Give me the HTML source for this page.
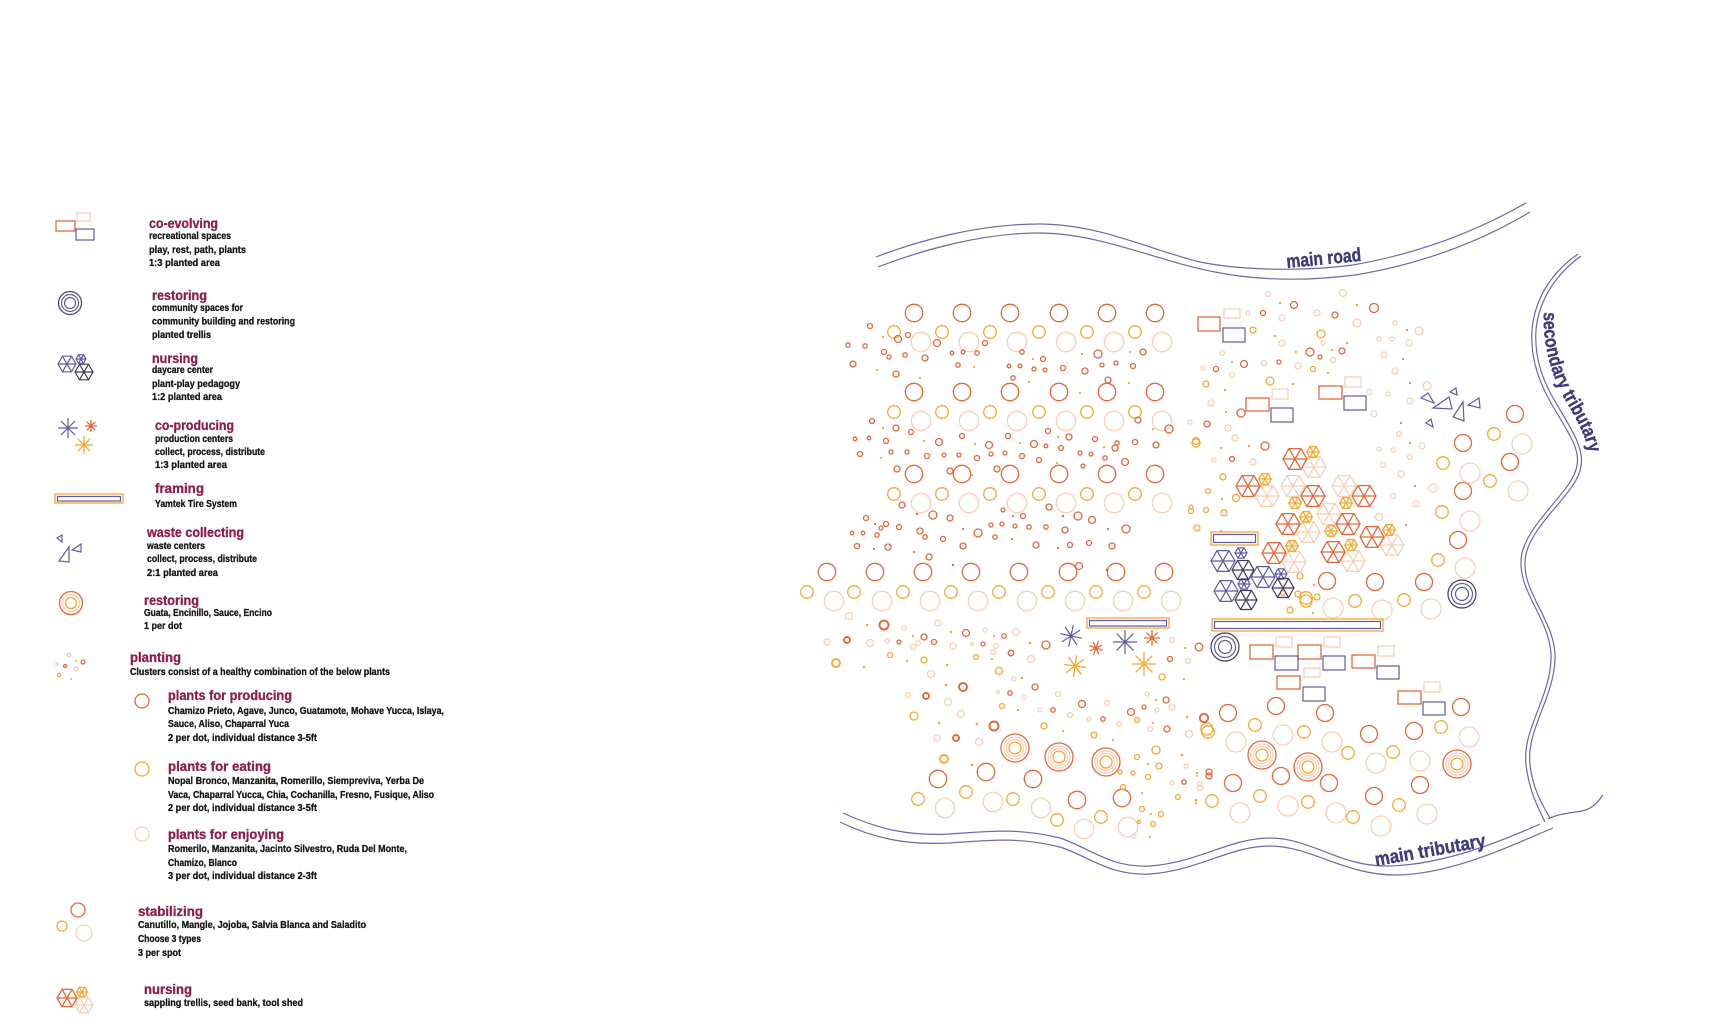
<!DOCTYPE html>
<html><head><meta charset="utf-8"><style>
html,body{margin:0;padding:0;background:#fff;}
svg{display:block;}
.t{font:bold 14px "Liberation Sans Narrow","Liberation Sans",sans-serif;fill:#8b1d4c;stroke:#8b1d4c;stroke-width:0.3;}
.b{font:bold 10.3px "Liberation Sans Narrow","Liberation Sans",sans-serif;fill:#151515;stroke:#151515;stroke-width:0.3;}
.m{font:bold 19px "Liberation Sans Narrow","Liberation Sans",sans-serif;fill:#3e3c7c;stroke:#3e3c7c;stroke-width:0.4;}
.R,.R *{fill:none;stroke:#e2673b;stroke-width:1.3;}
.Y,.Y *{fill:none;stroke:#f5a833;stroke-width:1.3;}
.P,.P *{fill:none;stroke:#f8cfb6;stroke-width:1.3;}
.N,.N *{fill:none;stroke:#5d5ca2;stroke-width:1.2;}
.D,.D *{fill:none;stroke:#433a5e;stroke-width:1.2;}
.h{vector-effect:non-scaling-stroke;}
.h *{vector-effect:non-scaling-stroke;}
.dy *{fill:#f5a833;stroke:none;}
.dr *{fill:#e2673b;stroke:none;}
.ln{fill:none;stroke:#6a69ab;stroke-width:1.2;}
.th *{stroke-width:1.9;}
</style></head><body>
<svg width="1727" height="1028" viewBox="0 0 1727 1028" xmlns="http://www.w3.org/2000/svg">
<rect width="1727" height="1028" fill="#fff"/>

<!-- ================= LEGEND ================= -->
<rect x="56" y="221" width="19" height="10" class="R"/>
<rect x="77" y="213" width="13" height="8" class="P"/>
<rect x="76" y="229" width="18" height="11" class="N"/>
<text class="t" x="149" y="228" textLength="69" lengthAdjust="spacingAndGlyphs">co-evolving</text>
<text class="b" x="149" y="239" textLength="82" lengthAdjust="spacingAndGlyphs">recreational spaces</text>
<text class="b" x="149" y="253" textLength="97" lengthAdjust="spacingAndGlyphs">play, rest, path, plants</text>
<text class="b" x="149" y="266" textLength="71" lengthAdjust="spacingAndGlyphs">1:3 planted area</text>

<circle cx="70" cy="303" r="11.5" class="D"/>
<circle cx="70" cy="303" r="8.5" class="N"/>
<circle cx="70" cy="303" r="5.5" class="N"/>
<text class="t" x="152" y="300" textLength="55" lengthAdjust="spacingAndGlyphs">restoring</text>
<text class="b" x="152" y="311" textLength="91" lengthAdjust="spacingAndGlyphs">community spaces for</text>
<text class="b" x="152" y="324.5" textLength="143" lengthAdjust="spacingAndGlyphs">community building and restoring</text>
<text class="b" x="152" y="338" textLength="59" lengthAdjust="spacingAndGlyphs">planted trellis</text>

<g class="N h"><path transform="translate(67,364) scale(9)" d="M1 0L.5 .866L-.5 .866L-1 0L-.5-.866L.5-.866ZM1 0L-1 0M.5 .866L-.5-.866M-.5 .866L.5-.866"/>
<path transform="translate(81,359) scale(5)" d="M1 0L.5 .866L-.5 .866L-1 0L-.5-.866L.5-.866ZM1 0L-1 0M.5 .866L-.5-.866M-.5 .866L.5-.866"/></g>
<g class="D h"><path transform="translate(84,372) scale(9)" d="M1 0L.5 .866L-.5 .866L-1 0L-.5-.866L.5-.866ZM1 0L-1 0M.5 .866L-.5-.866M-.5 .866L.5-.866"/></g>
<text class="t" x="152" y="363" textLength="46" lengthAdjust="spacingAndGlyphs">nursing</text>
<text class="b" x="152" y="373" textLength="61" lengthAdjust="spacingAndGlyphs">daycare center</text>
<text class="b" x="152" y="387" textLength="88" lengthAdjust="spacingAndGlyphs">plant-play pedagogy</text>
<text class="b" x="152" y="400" textLength="70" lengthAdjust="spacingAndGlyphs">1:2 planted area</text>

<g class="N h"><path transform="translate(68,428) scale(10)" d="M-1 0H1M0-1V1M-.7-.7L.7 .7M-.7 .7L.7-.7"/></g>
<g class="R h"><path transform="translate(91,426) scale(6)" d="M-1 0H1M0-1V1M-.7-.7L.7 .7M-.7 .7L.7-.7"/></g>
<g class="Y h"><path transform="translate(84,445) scale(9)" d="M-1 0H1M0-1V1M-.7-.7L.7 .7M-.7 .7L.7-.7"/></g>
<text class="t" x="155" y="430" textLength="79" lengthAdjust="spacingAndGlyphs">co-producing</text>
<text class="b" x="155" y="442" textLength="78" lengthAdjust="spacingAndGlyphs">production centers</text>
<text class="b" x="155" y="455" textLength="110" lengthAdjust="spacingAndGlyphs">collect, process, distribute</text>
<text class="b" x="155" y="468" textLength="72" lengthAdjust="spacingAndGlyphs">1:3 planted area</text>

<rect x="55" y="494" width="68" height="9" class="Y" fill="#fff"/>
<rect x="57.5" y="496.5" width="63" height="4.5" class="N"/>
<text class="t" x="155" y="493" textLength="49" lengthAdjust="spacingAndGlyphs">framing</text>
<text class="b" x="155" y="507" textLength="82" lengthAdjust="spacingAndGlyphs">Yamtek Tire System</text>

<g class="N"><polygon points="57,538 62,535 62,542"/><polygon points="59,561 69,547 69,562"/><polygon points="72,550 81,544 81,552"/></g>
<text class="t" x="147" y="537" textLength="97" lengthAdjust="spacingAndGlyphs">waste collecting</text>
<text class="b" x="147" y="549" textLength="58" lengthAdjust="spacingAndGlyphs">waste centers</text>
<text class="b" x="147" y="562" textLength="110" lengthAdjust="spacingAndGlyphs">collect, process, distribute</text>
<text class="b" x="147" y="576" textLength="71" lengthAdjust="spacingAndGlyphs">2:1 planted area</text>

<circle cx="71" cy="603" r="11.5" class="R"/>
<circle cx="71" cy="603" r="8.5" class="P"/>
<circle cx="71" cy="603" r="5.5" class="Y"/>
<text class="t" x="144" y="605" textLength="55" lengthAdjust="spacingAndGlyphs">restoring</text>
<text class="b" x="144" y="616" textLength="128" lengthAdjust="spacingAndGlyphs">Guata, Encinillo, Sauce, Encino</text>
<text class="b" x="144" y="629" textLength="38" lengthAdjust="spacingAndGlyphs">1 per dot</text>

<g class="P"><circle cx="69" cy="655" r="1.7"/><circle cx="76" cy="669" r="1.8"/><circle cx="57" cy="664" r="1.2"/></g>
<g class="R"><circle cx="83" cy="662" r="2"/><circle cx="65" cy="666" r="1.5"/></g>
<g class="Y"><circle cx="59" cy="675" r="1.6"/></g>
<g class="dy"><circle cx="76" cy="661" r="1"/><circle cx="71" cy="679" r="1"/></g>
<text class="t" x="130" y="662" textLength="51" lengthAdjust="spacingAndGlyphs">planting</text>
<text class="b" x="130" y="675" textLength="260" lengthAdjust="spacingAndGlyphs">Clusters consist of a healthy combination of the below plants</text>

<circle cx="142" cy="701" r="7" class="R"/>
<text class="t" x="168" y="700" textLength="124" lengthAdjust="spacingAndGlyphs">plants for producing</text>
<text class="b" x="168" y="714" textLength="276" lengthAdjust="spacingAndGlyphs">Chamizo Prieto, Agave, Junco, Guatamote, Mohave Yucca, Islaya,</text>
<text class="b" x="168" y="727" textLength="121" lengthAdjust="spacingAndGlyphs">Sauce, Aliso, Chaparral Yuca</text>
<text class="b" x="168" y="741" textLength="149" lengthAdjust="spacingAndGlyphs">2 per dot, individual distance 3-5ft</text>

<circle cx="142" cy="769" r="7" class="Y"/>
<text class="t" x="168" y="771" textLength="103" lengthAdjust="spacingAndGlyphs">plants for eating</text>
<text class="b" x="168" y="784" textLength="256" lengthAdjust="spacingAndGlyphs">Nopal Bronco, Manzanita, Romerillo, Siempreviva, Yerba De</text>
<text class="b" x="168" y="798" textLength="266" lengthAdjust="spacingAndGlyphs">Vaca, Chaparral Yucca, Chia, Cochanilla, Fresno, Fusique, Aliso</text>
<text class="b" x="168" y="811" textLength="149" lengthAdjust="spacingAndGlyphs">2 per dot, individual distance 3-5ft</text>

<circle cx="142" cy="834" r="7" class="P"/>
<text class="t" x="168" y="839" textLength="116" lengthAdjust="spacingAndGlyphs">plants for enjoying</text>
<text class="b" x="168" y="852" textLength="239" lengthAdjust="spacingAndGlyphs">Romerilo, Manzanita, Jacinto Silvestro, Ruda Del Monte,</text>
<text class="b" x="168" y="866" textLength="69" lengthAdjust="spacingAndGlyphs">Chamizo, Blanco</text>
<text class="b" x="168" y="879" textLength="149" lengthAdjust="spacingAndGlyphs">3 per dot, individual distance 2-3ft</text>

<circle cx="78" cy="910" r="7" class="R"/>
<circle cx="62" cy="926" r="5" class="Y"/>
<circle cx="84" cy="933" r="8" class="P"/>
<text class="t" x="138" y="916" textLength="65" lengthAdjust="spacingAndGlyphs">stabilizing</text>
<text class="b" x="138" y="928" textLength="228" lengthAdjust="spacingAndGlyphs">Canutillo, Mangle, Jojoba, Salvia Blanca and Saladito</text>
<text class="b" x="138" y="942" textLength="63" lengthAdjust="spacingAndGlyphs">Choose 3 types</text>
<text class="b" x="138" y="956" textLength="43" lengthAdjust="spacingAndGlyphs">3 per spot</text>

<g class="R h"><path transform="translate(67,998) scale(10)" d="M1 0L.5 .866L-.5 .866L-1 0L-.5-.866L.5-.866ZM1 0L-1 0M.5 .866L-.5-.866M-.5 .866L.5-.866"/></g>
<g class="P h"><path transform="translate(84,1005) scale(9)" d="M1 0L.5 .866L-.5 .866L-1 0L-.5-.866L.5-.866ZM1 0L-1 0M.5 .866L-.5-.866M-.5 .866L.5-.866"/></g>
<g class="Y h"><path transform="translate(82,992) scale(5.5)" d="M1 0L.5 .866L-.5 .866L-1 0L-.5-.866L.5-.866ZM1 0L-1 0M.5 .866L-.5-.866M-.5 .866L.5-.866"/></g>
<text class="t" x="144" y="994" textLength="48" lengthAdjust="spacingAndGlyphs">nursing</text>
<text class="b" x="144" y="1006" textLength="159" lengthAdjust="spacingAndGlyphs">sappling trellis, seed bank, tool shed</text>

<!-- ================= MAP: roads / rivers ================= -->
<path class="ln" d="M876,257 C920,240 980,224 1039,224 C1100,224 1150,250 1200,262 C1240,270 1300,272 1353,265 C1410,255 1470,235 1526,203"/>
<path class="ln" d="M878,267 C922,250 982,233 1039,233 C1100,233 1160,262 1215,272 C1255,280 1300,282 1355,275 C1415,265 1475,245 1530,212"/>
<text class="m" transform="translate(1287,268) rotate(-5.5)" textLength="75" lengthAdjust="spacingAndGlyphs">main road</text>

<path class="ln" d="M1578,254 C1555,270 1535,295 1532,330 C1530,360 1540,385 1555,410 C1570,435 1580,450 1577,465 C1574,490 1530,520 1522,553 C1514,590 1553,620 1551,660 C1549,700 1522,730 1526,765 C1529,790 1538,808 1545,822"/>
<path class="ln" d="M1581,256 C1559,272 1539,297 1536,330 C1534,360 1544,384 1559,408 C1574,433 1584,450 1581,466 C1578,492 1534,521 1526,554 C1518,591 1557,620 1555,660 C1553,700 1526,730 1530,765 C1533,790 1543,806 1550,818"/>
<path id="stp" fill="none" stroke="none" d="M1544,312 C1542,345 1552,378 1567,403 C1581,427 1593,450 1590,474"/>
<text class="m"><textPath href="#stp" textLength="150" lengthAdjust="spacingAndGlyphs">secondary tributary</textPath></text>

<path class="ln" d="M843,813 C880,830 910,836 950,834 C990,831 1020,828 1060,838 C1090,848 1110,868 1150,866 C1200,862 1230,838 1270,838 C1310,838 1340,866 1385,866 C1440,866 1500,842 1540,824"/>
<path class="ln" d="M840,822 C877,840 910,845 950,843 C990,840 1020,837 1060,847 C1090,857 1110,876 1150,874 C1200,870 1230,846 1270,846 C1310,846 1345,875 1395,875 C1450,875 1510,846 1553,828"/>
<path class="ln" d="M1548,819 C1560,813 1572,813 1582,811 C1592,809 1598,802 1603,795"/>
<text class="m" transform="translate(1376,866) rotate(-10)" textLength="112" lengthAdjust="spacingAndGlyphs">main tributary</text>

<!-- ================= MAP: grid circles ================= -->
<g class="R" style="stroke-width:1.5">
<circle cx="914" cy="313" r="8.7"/><circle cx="962" cy="313" r="8.7"/><circle cx="1010" cy="313" r="8.7"/><circle cx="1059" cy="313" r="8.7"/><circle cx="1107" cy="313" r="8.7"/><circle cx="1155" cy="313" r="8.7"/>
<circle cx="914" cy="392" r="8.7"/><circle cx="962" cy="392" r="8.7"/><circle cx="1010" cy="392" r="8.7"/><circle cx="1059" cy="392" r="8.7"/><circle cx="1107" cy="392" r="8.7"/><circle cx="1155" cy="392" r="8.7"/>
<circle cx="914" cy="474" r="8.7"/><circle cx="962" cy="474" r="8.7"/><circle cx="1010" cy="474" r="8.7"/><circle cx="1059" cy="474" r="8.7"/><circle cx="1107" cy="474" r="8.7"/><circle cx="1155" cy="474" r="8.7"/>
<circle cx="827" cy="572" r="8.7"/><circle cx="875" cy="572" r="8.7"/><circle cx="923" cy="572" r="8.7"/><circle cx="971" cy="572" r="8.7"/><circle cx="1019" cy="572" r="8.7"/><circle cx="1068" cy="572" r="8.7"/><circle cx="1116" cy="572" r="8.7"/><circle cx="1164" cy="572" r="8.7"/>
<circle cx="1515" cy="414" r="8.5"/><circle cx="1463" cy="443" r="8.5"/><circle cx="1510" cy="462" r="8.5"/><circle cx="1463" cy="491" r="8.5"/><circle cx="1458" cy="540" r="8.5"/>
<circle cx="1327" cy="581" r="8.5"/><circle cx="1375" cy="582" r="8.5"/><circle cx="1424" cy="582" r="8.5"/>
<circle cx="938" cy="779" r="8.7"/><circle cx="986" cy="772" r="8.7"/><circle cx="1033" cy="779" r="8.7"/><circle cx="1077" cy="800" r="8.7"/><circle cx="1122" cy="798" r="8.7"/>
<circle cx="1228" cy="713" r="8.5"/><circle cx="1276" cy="706" r="8.5"/><circle cx="1325" cy="713" r="8.5"/><circle cx="1369" cy="734" r="8.5"/><circle cx="1414" cy="731" r="8.5"/><circle cx="1461" cy="707" r="8.5"/>
<circle cx="1233" cy="783" r="8.5"/><circle cx="1281" cy="776" r="8.5"/><circle cx="1329" cy="783" r="8.5"/><circle cx="1374" cy="796" r="8.5"/><circle cx="1420" cy="785" r="8.5"/>
</g>
<g class="Y">
<circle cx="894" cy="332" r="6.3"/><circle cx="942" cy="332" r="6.3"/><circle cx="990" cy="332" r="6.3"/><circle cx="1039" cy="332" r="6.3"/><circle cx="1087" cy="332" r="6.3"/><circle cx="1135" cy="332" r="6.3"/>
<circle cx="894" cy="412" r="6.3"/><circle cx="942" cy="412" r="6.3"/><circle cx="990" cy="412" r="6.3"/><circle cx="1039" cy="412" r="6.3"/><circle cx="1087" cy="412" r="6.3"/><circle cx="1135" cy="412" r="6.3"/>
<circle cx="894" cy="494" r="6.3"/><circle cx="942" cy="494" r="6.3"/><circle cx="990" cy="494" r="6.3"/><circle cx="1039" cy="494" r="6.3"/><circle cx="1087" cy="494" r="6.3"/><circle cx="1135" cy="494" r="6.3"/>
<circle cx="807" cy="592" r="6.3"/><circle cx="854" cy="592" r="6.3"/><circle cx="903" cy="592" r="6.3"/><circle cx="951" cy="592" r="6.3"/><circle cx="999" cy="592" r="6.3"/><circle cx="1048" cy="592" r="6.3"/><circle cx="1096" cy="592" r="6.3"/><circle cx="1144" cy="592" r="6.3"/>
<circle cx="1494" cy="434" r="6.3"/><circle cx="1443" cy="463" r="6.3"/><circle cx="1490" cy="481" r="6.3"/><circle cx="1442" cy="512" r="6.3"/><circle cx="1438" cy="560" r="6.3"/>
<circle cx="1306" cy="598" r="6.3"/><circle cx="1355" cy="601" r="6.3"/><circle cx="1404" cy="600" r="6.3"/>
<circle cx="918" cy="799" r="6.3"/><circle cx="966" cy="792" r="6.3"/><circle cx="1013" cy="799" r="6.3"/><circle cx="1057" cy="820" r="6.3"/><circle cx="1101" cy="817" r="6.3"/><circle cx="1212" cy="801" r="6.3"/>
<circle cx="1255" cy="725" r="6.3"/><circle cx="1304" cy="732" r="6.3"/><circle cx="1208" cy="732" r="6.3"/><circle cx="1348" cy="753" r="6.3"/><circle cx="1393" cy="752" r="6.3"/><circle cx="1441" cy="727" r="6.3"/>
<circle cx="1260" cy="796" r="6.3"/><circle cx="1308" cy="802" r="6.3"/><circle cx="1353" cy="817" r="6.3"/><circle cx="1399" cy="805" r="6.3"/><circle cx="1207" cy="729" r="6"/>
</g>
<g class="P">
<circle cx="921" cy="342" r="9.7"/><circle cx="969" cy="342" r="9.7"/><circle cx="1017" cy="342" r="9.7"/><circle cx="1066" cy="342" r="9.7"/><circle cx="1114" cy="342" r="9.7"/><circle cx="1162" cy="342" r="9.7"/>
<circle cx="921" cy="421" r="9.7"/><circle cx="969" cy="421" r="9.7"/><circle cx="1017" cy="421" r="9.7"/><circle cx="1066" cy="421" r="9.7"/><circle cx="1114" cy="421" r="9.7"/><circle cx="1162" cy="421" r="9.7"/>
<circle cx="921" cy="503" r="9.7"/><circle cx="969" cy="503" r="9.7"/><circle cx="1017" cy="503" r="9.7"/><circle cx="1066" cy="503" r="9.7"/><circle cx="1114" cy="503" r="9.7"/><circle cx="1162" cy="503" r="9.7"/>
<circle cx="834" cy="601" r="9.7"/><circle cx="882" cy="601" r="9.7"/><circle cx="930" cy="601" r="9.7"/><circle cx="978" cy="601" r="9.7"/><circle cx="1027" cy="601" r="9.7"/><circle cx="1075" cy="601" r="9.7"/><circle cx="1123" cy="601" r="9.7"/><circle cx="1171" cy="601" r="9.7"/>
<circle cx="1522" cy="444" r="10"/><circle cx="1470" cy="473" r="10"/><circle cx="1518" cy="491" r="10"/><circle cx="1470" cy="521" r="10"/><circle cx="1465" cy="568" r="10"/>
<circle cx="1333" cy="608" r="10"/><circle cx="1382" cy="610" r="10"/><circle cx="1431" cy="609" r="10"/>
<circle cx="945" cy="808" r="9.7"/><circle cx="993" cy="802" r="9.7"/><circle cx="1041" cy="808" r="9.7"/><circle cx="1084" cy="829" r="9.7"/><circle cx="1128" cy="827" r="9.7"/>
<circle cx="1236" cy="742" r="10"/><circle cx="1283" cy="735" r="10"/><circle cx="1332" cy="742" r="10"/><circle cx="1376" cy="763" r="10"/><circle cx="1420" cy="761" r="10"/><circle cx="1469" cy="737" r="10"/>
<circle cx="1240" cy="813" r="10"/><circle cx="1288" cy="806" r="10"/><circle cx="1336" cy="813" r="10"/><circle cx="1381" cy="826" r="10"/><circle cx="1427" cy="814" r="10"/>
</g>

<!-- orange concentric -->
<g>
<g class="R"><circle cx="1015" cy="748" r="14"/><circle cx="1059" cy="757" r="14"/><circle cx="1106" cy="762" r="14"/><circle cx="1262" cy="755" r="14"/><circle cx="1308" cy="767" r="14"/><circle cx="1457" cy="764" r="14"/></g>
<g class="P"><circle cx="1015" cy="748" r="11"/><circle cx="1059" cy="757" r="11"/><circle cx="1106" cy="762" r="11"/><circle cx="1262" cy="755" r="11"/><circle cx="1308" cy="767" r="11"/><circle cx="1457" cy="764" r="11"/>
<circle cx="1015" cy="748" r="8.5"/><circle cx="1059" cy="757" r="8.5"/><circle cx="1106" cy="762" r="8.5"/><circle cx="1262" cy="755" r="8.5"/><circle cx="1308" cy="767" r="8.5"/><circle cx="1457" cy="764" r="8.5"/></g>
<g class="Y"><circle cx="1015" cy="748" r="6"/><circle cx="1059" cy="757" r="6"/><circle cx="1106" cy="762" r="6"/><circle cx="1262" cy="755" r="6"/><circle cx="1308" cy="767" r="6"/><circle cx="1457" cy="764" r="6"/></g>
</g>

<!-- navy concentric -->
<g class="D"><circle cx="1225" cy="647" r="14"/><circle cx="1462" cy="594" r="14"/></g>
<g class="N"><circle cx="1225" cy="647" r="10.5"/><circle cx="1225" cy="647" r="6.5"/><circle cx="1462" cy="594" r="10.5"/><circle cx="1462" cy="594" r="6.5"/></g>

<!-- ================= small scattered circles ================= -->
<g class="R" style="stroke-width:1.2">
<circle cx="870" cy="326" r="2.5"/><circle cx="848" cy="345" r="2.2"/><circle cx="865" cy="346" r="2.2"/><circle cx="853" cy="364" r="3"/><circle cx="884" cy="352" r="2.5"/><circle cx="889" cy="357" r="2"/><circle cx="898" cy="339" r="3.5"/><circle cx="908" cy="335" r="2.5"/><circle cx="905" cy="355" r="2.2"/><circle cx="925" cy="358" r="3"/><circle cx="896" cy="374" r="3"/><circle cx="937" cy="343" r="3.5"/><circle cx="952" cy="353" r="1.8"/><circle cx="963" cy="352" r="1.8"/><circle cx="977" cy="353" r="2.2"/><circle cx="958" cy="365" r="2.2"/><circle cx="985" cy="343" r="2.5"/><circle cx="1022" cy="352" r="2.2"/><circle cx="1009" cy="366" r="1.8"/><circle cx="1020" cy="366" r="1.8"/><circle cx="1034" cy="369" r="2"/><circle cx="1043" cy="359" r="2.5"/><circle cx="1045" cy="370" r="2"/><circle cx="1063" cy="368" r="2.5"/><circle cx="1013" cy="378" r="2.2"/><circle cx="1085" cy="371" r="3"/><circle cx="1098" cy="354" r="4"/><circle cx="1102" cy="365" r="2"/><circle cx="1116" cy="363" r="2"/><circle cx="1133" cy="366" r="2.5"/><circle cx="1143" cy="352" r="3"/><circle cx="1108" cy="380" r="3"/>
<circle cx="872" cy="421" r="2.5"/><circle cx="855" cy="439" r="1.8"/><circle cx="869" cy="438" r="1.8"/><circle cx="860" cy="454" r="2.5"/><circle cx="886" cy="441" r="2.5"/><circle cx="896" cy="428" r="3"/><circle cx="911" cy="432" r="2.5"/><circle cx="891" cy="452" r="2"/><circle cx="907" cy="452" r="2"/><circle cx="927" cy="456" r="2.5"/><circle cx="939" cy="442" r="3.5"/><circle cx="944" cy="455" r="2"/><circle cx="962" cy="436" r="2.5"/><circle cx="959" cy="455" r="2"/><circle cx="977" cy="458" r="2.5"/><circle cx="989" cy="445" r="3.5"/><circle cx="991" cy="454" r="2"/><circle cx="1005" cy="453" r="2"/><circle cx="1008" cy="436" r="2.5"/><circle cx="1022" cy="456" r="2.5"/><circle cx="1034" cy="444" r="3.5"/><circle cx="1046" cy="446" r="1.8"/><circle cx="1048" cy="431" r="2.5"/><circle cx="1039" cy="460" r="2.5"/><circle cx="1061" cy="448" r="2.5"/><circle cx="1069" cy="437" r="3"/><circle cx="1080" cy="453" r="2"/><circle cx="1091" cy="454" r="2"/><circle cx="1095" cy="439" r="2.5"/><circle cx="1105" cy="458" r="2.2"/><circle cx="1115" cy="448" r="3"/><circle cx="1117" cy="443" r="2.2"/><circle cx="1125" cy="462" r="3.5"/><circle cx="1135" cy="442" r="2.5"/><circle cx="1156" cy="445" r="3"/><circle cx="1138" cy="420" r="3"/><circle cx="1169" cy="429" r="4"/><circle cx="897" cy="469" r="3"/><circle cx="950" cy="471" r="3"/><circle cx="997" cy="469" r="3"/><circle cx="1083" cy="466" r="2"/>
<circle cx="866" cy="518" r="2.5"/><circle cx="902" cy="505" r="3"/><circle cx="886" cy="524" r="2.5"/><circle cx="881" cy="528" r="2"/><circle cx="899" cy="527" r="2.5"/><circle cx="877" cy="535" r="2.2"/><circle cx="852" cy="533" r="1.8"/><circle cx="863" cy="533" r="1.8"/><circle cx="857" cy="546" r="2.5"/><circle cx="888" cy="547" r="3"/><circle cx="920" cy="531" r="3"/><circle cx="925" cy="537" r="2.2"/><circle cx="933" cy="515" r="4"/><circle cx="950" cy="518" r="3"/><circle cx="943" cy="539" r="2.5"/><circle cx="963" cy="546" r="3"/><circle cx="978" cy="533" r="4"/><circle cx="991" cy="525" r="2"/><circle cx="995" cy="537" r="2.2"/><circle cx="1002" cy="524" r="2"/><circle cx="1003" cy="510" r="2"/><circle cx="1015" cy="526" r="2"/><circle cx="1023" cy="516" r="2.5"/><circle cx="1029" cy="527" r="2.2"/><circle cx="1046" cy="527" r="2.2"/><circle cx="1049" cy="507" r="3"/><circle cx="1036" cy="545" r="3"/><circle cx="1065" cy="530" r="3"/><circle cx="1070" cy="545" r="2.5"/><circle cx="1078" cy="516" r="4"/><circle cx="1089" cy="543" r="2.5"/><circle cx="1092" cy="520" r="3.5"/><circle cx="1112" cy="546" r="3"/><circle cx="1126" cy="529" r="4"/><circle cx="929" cy="557" r="3"/><circle cx="1079" cy="566" r="3.5"/>
<circle cx="966" cy="633" r="3.5"/><circle cx="1004" cy="636" r="2.2"/><circle cx="899" cy="642" r="2"/><circle cx="924" cy="637" r="3"/><circle cx="934" cy="642" r="2.5"/><circle cx="983" cy="644" r="2"/><circle cx="1011" cy="653" r="2.8"/><circle cx="1046" cy="645" r="4"/><circle cx="1010" cy="693" r="2.2"/><circle cx="1035" cy="687" r="3"/><circle cx="1053" cy="710" r="2.2"/><circle cx="1082" cy="704" r="3.5"/><circle cx="1103" cy="719" r="2.2"/><circle cx="1131" cy="712" r="3.5"/><circle cx="1144" cy="707" r="2"/><circle cx="1166" cy="700" r="3"/><circle cx="1167" cy="729" r="3"/><circle cx="1170" cy="659" r="2.5"/><circle cx="1199" cy="647" r="3.8"/><circle cx="1209" cy="772" r="3"/><circle cx="1184" cy="782" r="2.2"/><circle cx="1209" cy="776" r="3"/>
<circle cx="1294" cy="305" r="3.5"/><circle cx="1263" cy="313" r="2.5"/><circle cx="1335" cy="315" r="3"/><circle cx="1374" cy="308" r="4.5"/><circle cx="1310" cy="352" r="4"/><circle cx="1320" cy="357" r="2"/><circle cx="1342" cy="351" r="3"/><circle cx="1244" cy="364" r="3.5"/><circle cx="1279" cy="362" r="2"/><circle cx="1216" cy="369" r="2.5"/><circle cx="1241" cy="413" r="4"/><circle cx="1207" cy="424" r="3"/><circle cx="1232" cy="459" r="2.5"/><circle cx="1265" cy="446" r="4"/>
</g>
<g class="R th">
<circle cx="884" cy="625" r="4.5"/><circle cx="847" cy="640" r="3"/><circle cx="963" cy="687" r="4"/><circle cx="926" cy="696" r="3"/><circle cx="994" cy="726" r="4.5"/><circle cx="956" cy="738" r="3"/><circle cx="1204" cy="718" r="4.2"/>
</g>
<g class="Y" style="stroke-width:1.2">
<circle cx="1253" cy="330" r="3"/><circle cx="1321" cy="334" r="4"/><circle cx="1313" cy="369" r="2.5"/><circle cx="1206" cy="384" r="3"/><circle cx="1270" cy="381" r="4"/><circle cx="1196" cy="443" r="4"/><circle cx="1223" cy="477" r="3"/><circle cx="1208" cy="491" r="2.5"/><circle cx="1236" cy="498" r="3.5"/><circle cx="1206" cy="510" r="2.5"/><circle cx="1224" cy="513" r="3"/><circle cx="1191" cy="511" r="2.5"/><circle cx="1197" cy="528" r="3"/><circle cx="1300" cy="576" r="3"/><circle cx="1298" cy="594" r="3"/><circle cx="1317" cy="597" r="3"/><circle cx="1306" cy="601" r="6"/><circle cx="1283" cy="593" r="2.5"/><circle cx="1290" cy="610" r="3"/><circle cx="1196" cy="441" r="3.5"/><circle cx="1191" cy="507" r="2"/>
<circle cx="976" cy="657" r="2.5"/><circle cx="890" cy="655" r="2.5"/><circle cx="924" cy="660" r="3"/><circle cx="999" cy="671" r="3.5"/><circle cx="1002" cy="706" r="2.5"/><circle cx="914" cy="716" r="4"/><circle cx="1044" cy="726" r="3"/><circle cx="1094" cy="735" r="3"/><circle cx="1137" cy="720" r="2.5"/><circle cx="1156" cy="750" r="4"/><circle cx="1137" cy="757" r="2.5"/><circle cx="1159" cy="766" r="3"/><circle cx="1148" cy="777" r="2.5"/><circle cx="1133" cy="773" r="2"/><circle cx="1120" cy="772" r="2"/><circle cx="1123" cy="787" r="2.5"/><circle cx="1142" cy="809" r="2.5"/><circle cx="1161" cy="814" r="2.5"/><circle cx="1153" cy="824" r="2.5"/><circle cx="1139" cy="822" r="1.5"/><circle cx="1162" cy="677" r="3"/><circle cx="1178" cy="797" r="2.5"/>
</g>
<g class="Y th"><circle cx="836" cy="663" r="4"/><circle cx="944" cy="759" r="4"/></g>
<g class="P" style="stroke-width:1.2">
<circle cx="1268" cy="294" r="2.5"/><circle cx="1343" cy="293" r="3.5"/><circle cx="1248" cy="313" r="2"/><circle cx="1282" cy="318" r="3"/><circle cx="1317" cy="313" r="3"/><circle cx="1357" cy="323" r="4"/><circle cx="1282" cy="343" r="3"/><circle cx="1323" cy="343" r="2"/><circle cx="1333" cy="360" r="2.5"/><circle cx="1222" cy="353" r="2.5"/><circle cx="1264" cy="363" r="2.5"/><circle cx="1298" cy="366" r="3"/><circle cx="1203" cy="368" r="2"/><circle cx="1232" cy="375" r="2.5"/><circle cx="1211" cy="403" r="3"/><circle cx="1228" cy="428" r="3"/><circle cx="1235" cy="438" r="3"/><circle cx="1253" cy="462" r="3"/><circle cx="1214" cy="460" r="2"/><circle cx="1395" cy="323" r="2"/><circle cx="1379" cy="339" r="2"/><circle cx="1392" cy="339" r="2"/><circle cx="1419" cy="331" r="4"/><circle cx="1409" cy="343" r="3"/><circle cx="1384" cy="355" r="3"/><circle cx="1395" cy="371" r="3"/><circle cx="1369" cy="392" r="2.5"/><circle cx="1388" cy="394" r="2"/><circle cx="1410" cy="401" r="3"/><circle cx="1427" cy="386" r="4"/><circle cx="1374" cy="414" r="3"/><circle cx="1399" cy="434" r="2.5"/><circle cx="1422" cy="446" r="3"/><circle cx="1379" cy="449" r="2"/><circle cx="1393" cy="450" r="2"/><circle cx="1410" cy="457" r="2.5"/><circle cx="1383" cy="465" r="2.5"/><circle cx="1401" cy="474" r="3"/><circle cx="1433" cy="488" r="4"/><circle cx="1393" cy="496" r="2.5"/><circle cx="1416" cy="504" r="3"/><circle cx="1379" cy="517" r="3.5"/><circle cx="1190" cy="422" r="2"/>
<circle cx="849" cy="616" r="3.5"/><circle cx="904" cy="628" r="2"/><circle cx="938" cy="623" r="3"/><circle cx="985" cy="630" r="2"/><circle cx="1016" cy="632" r="3.5"/><circle cx="827" cy="642" r="3"/><circle cx="870" cy="643" r="3.5"/><circle cx="887" cy="641" r="2"/><circle cx="913" cy="647" r="2.5"/><circle cx="918" cy="643" r="2.5"/><circle cx="953" cy="646" r="3"/><circle cx="972" cy="644" r="1.5"/><circle cx="996" cy="646" r="2.5"/><circle cx="993" cy="652" r="2.5"/><circle cx="1031" cy="659" r="3.5"/><circle cx="931" cy="674" r="3.5"/><circle cx="1014" cy="679" r="2"/><circle cx="908" cy="695" r="2.5"/><circle cx="948" cy="702" r="3.5"/><circle cx="1024" cy="697" r="2"/><circle cx="998" cy="692" r="1.5"/><circle cx="1058" cy="694" r="2.5"/><circle cx="961" cy="714" r="3.5"/><circle cx="1040" cy="710" r="2"/><circle cx="1070" cy="715" r="2.5"/><circle cx="1089" cy="719" r="2"/><circle cx="937" cy="738" r="3"/><circle cx="979" cy="742" r="3.5"/><circle cx="1107" cy="703" r="2.5"/><circle cx="1119" cy="724" r="2.5"/><circle cx="1147" cy="694" r="2"/><circle cx="1150" cy="729" r="2.5"/><circle cx="1157" cy="710" r="2"/><circle cx="1172" cy="707" r="3"/><circle cx="1134" cy="836" r="2"/><circle cx="1189" cy="734" r="3.5"/><circle cx="1186" cy="766" r="2"/><circle cx="1200" cy="784" r="2.5"/><circle cx="1172" cy="783" r="2"/><circle cx="1188" cy="661" r="2.5"/><circle cx="1172" cy="640" r="2.5"/><circle cx="1200" cy="788" r="2.5"/>
</g>
<g class="dy">
<circle cx="883" cy="337" r="1.1"/><circle cx="877" cy="370" r="1.1"/><circle cx="920" cy="378" r="1.1"/><circle cx="974" cy="367" r="1.1"/><circle cx="1033" cy="359" r="1.1"/><circle cx="1029" cy="382" r="1.1"/><circle cx="1082" cy="354" r="1.1"/><circle cx="1130" cy="352" r="1.1"/><circle cx="1129" cy="383" r="1.1"/><circle cx="1080" cy="393" r="1.1"/><circle cx="883" cy="428" r="1.1"/><circle cx="881" cy="458" r="1.1"/><circle cx="924" cy="441" r="1.1"/><circle cx="975" cy="444" r="1.1"/><circle cx="1020" cy="443" r="1.1"/><circle cx="1058" cy="437" r="1.1"/><circle cx="1104" cy="447" r="1.1"/><circle cx="1153" cy="429" r="1.1"/><circle cx="1057" cy="463" r="1.1"/><circle cx="972" cy="475" r="1.1"/><circle cx="1151" cy="466" r="1.1"/>
<circle cx="867" cy="625" r="1.3"/><circle cx="951" cy="632" r="1.3"/><circle cx="994" cy="636" r="1.1"/><circle cx="913" cy="636" r="1.1"/><circle cx="992" cy="659" r="1.1"/><circle cx="1030" cy="643" r="1.3"/><circle cx="864" cy="667" r="1.3"/><circle cx="907" cy="661" r="1.1"/><circle cx="947" cy="665" r="1.3"/><circle cx="1022" cy="678" r="1.3"/><circle cx="946" cy="685" r="1.3"/><circle cx="1018" cy="710" r="1.1"/><circle cx="939" cy="723" r="1.3"/><circle cx="977" cy="724" r="1.3"/><circle cx="1063" cy="731" r="1.1"/><circle cx="1113" cy="740" r="1.1"/><circle cx="972" cy="765" r="1.3"/><circle cx="1153" cy="723" r="1.1"/><circle cx="1156" cy="700" r="1.1"/><circle cx="1187" cy="717" r="1.3"/><circle cx="1182" cy="755" r="1.3"/><circle cx="1197" cy="773" r="1.1"/><circle cx="1196" cy="800" r="1.3"/><circle cx="1148" cy="764" r="1.1"/><circle cx="1142" cy="793" r="1.1"/><circle cx="1151" cy="814" r="1.1"/><circle cx="1150" cy="837" r="1.1"/><circle cx="1185" cy="648" r="1.1"/><circle cx="1184" cy="679" r="1.1"/>
<circle cx="1280" cy="303" r="1.2"/><circle cx="1357" cy="305" r="1.3"/><circle cx="1275" cy="336" r="1.2"/><circle cx="1347" cy="343" r="1.3"/><circle cx="1332" cy="350" r="1.1"/><circle cx="1296" cy="352" r="1.2"/><circle cx="1232" cy="362" r="1.1"/><circle cx="1328" cy="373" r="1.1"/><circle cx="1293" cy="384" r="1.2"/><circle cx="1225" cy="390" r="1.2"/><circle cx="1226" cy="412" r="1.2"/><circle cx="1221" cy="448" r="1.2"/><circle cx="1249" cy="446" r="1.2"/><circle cx="1222" cy="499" r="1.2"/><circle cx="1221" cy="531" r="1.2"/><circle cx="1314" cy="585" r="1.2"/><circle cx="1313" cy="613" r="1.2"/><circle cx="1197" cy="776" r="1.1"/><circle cx="1196" cy="803" r="1.2"/>
</g>
<g class="dr">
<circle cx="875" cy="524" r="1.1"/><circle cx="917" cy="514" r="1.2"/><circle cx="963" cy="529" r="1.1"/><circle cx="1013" cy="516" r="1.1"/><circle cx="1012" cy="539" r="1.1"/><circle cx="1063" cy="516" r="1.2"/><circle cx="1108" cy="529" r="1.1"/><circle cx="1058" cy="548" r="1.1"/><circle cx="874" cy="549" r="1.1"/><circle cx="914" cy="552" r="1.1"/><circle cx="953" cy="565" r="1.2"/><circle cx="1107" cy="570" r="1.3"/>
<circle cx="1407" cy="330" r="1"/><circle cx="1403" cy="359" r="1"/><circle cx="1410" cy="383" r="1"/><circle cx="1401" cy="423" r="1"/><circle cx="1410" cy="443" r="1"/><circle cx="1415" cy="486" r="1"/><circle cx="1406" cy="525" r="1"/>
</g>

<!-- ================= rectangles (co-evolving) ================= -->
<g class="R">
<rect x="1198" y="317" width="22" height="14"/><rect x="1246" y="398" width="23" height="13"/><rect x="1319" y="386" width="23" height="13"/>
<rect x="1250" y="645" width="23" height="14"/><rect x="1298" y="645" width="23" height="14"/><rect x="1352" y="655" width="23" height="13"/><rect x="1277" y="676" width="23" height="13"/><rect x="1398" y="691" width="23" height="13"/>
</g>
<g class="P">
<rect x="1224" y="309" width="16" height="9"/><rect x="1272" y="389" width="16" height="10"/><rect x="1345" y="377" width="16" height="10"/>
<rect x="1276" y="637" width="16" height="10"/><rect x="1324" y="637" width="16" height="10"/><rect x="1378" y="646" width="16" height="10"/><rect x="1304" y="668" width="16" height="9"/><rect x="1424" y="682" width="16" height="10"/>
</g>
<g class="N">
<rect x="1223" y="328" width="22" height="14"/><rect x="1271" y="408" width="22" height="14"/><rect x="1344" y="396" width="22" height="14"/>
<rect x="1275" y="656" width="23" height="14"/><rect x="1323" y="656" width="22" height="14"/><rect x="1377" y="666" width="22" height="13"/><rect x="1303" y="687" width="22" height="14"/><rect x="1423" y="702" width="22" height="13"/>
</g>

<!-- ================= framing bars ================= -->
<g class="Y"><rect x="1087" y="618" width="82" height="10" fill="#fff"/><rect x="1212" y="619" width="171" height="12" fill="#fff"/><rect x="1211" y="532" width="47" height="13" fill="#fff"/></g>
<g class="N"><rect x="1089.5" y="620.5" width="77" height="5.5"/><rect x="1214.5" y="621.5" width="166" height="7"/><rect x="1213.5" y="534.5" width="42" height="8"/></g>

<!-- ================= asterisks ================= -->
<g class="N h"><path transform="translate(1071,636) scale(11) rotate(12)" d="M-1 0H1M0-1V1M-.7-.7L.7 .7M-.7 .7L.7-.7"/>
<path transform="translate(1125,642) scale(12)" d="M-1 0H1M0-1V1M-.7-.7L.7 .7M-.7 .7L.7-.7"/></g>
<g class="R h"><path transform="translate(1096,648) scale(7) rotate(20)" d="M-1 0H1M0-1V1M-.7-.7L.7 .7M-.7 .7L.7-.7"/>
<path transform="translate(1152,638) scale(8)" d="M-1 0H1M0-1V1M-.7-.7L.7 .7M-.7 .7L.7-.7"/></g>
<g class="Y h"><path transform="translate(1075,666) scale(11) rotate(8)" d="M-1 0H1M0-1V1M-.7-.7L.7 .7M-.7 .7L.7-.7"/>
<path transform="translate(1144,664) scale(12)" d="M-1 0H1M0-1V1M-.7-.7L.7 .7M-.7 .7L.7-.7"/></g>

<!-- ================= triangles ================= -->
<g class="N">
<polygon points="1421,398 1428,393 1434,403"/>
<polygon points="1433,408 1449,397 1452,409"/>
<polygon points="1450,392 1456,388 1457,395"/>
<polygon points="1453,417 1463,402 1464,421"/>
<polygon points="1468,405 1479,398 1480,408"/>
<polygon points="1426,423 1431,419 1433,427"/>
</g>

<!-- ================= hexagons ================= -->
<g class="P h">
<path transform="translate(1314,467) scale(12)" d="M1 0L.5 .866L-.5 .866L-1 0L-.5-.866L.5-.866ZM1 0L-1 0M.5 .866L-.5-.866M-.5 .866L.5-.866"/>
<path transform="translate(1267,496) scale(12)" d="M1 0L.5 .866L-.5 .866L-1 0L-.5-.866L.5-.866ZM1 0L-1 0M.5 .866L-.5-.866M-.5 .866L.5-.866"/>
<path transform="translate(1293,486) scale(12)" d="M1 0L.5 .866L-.5 .866L-1 0L-.5-.866L.5-.866ZM1 0L-1 0M.5 .866L-.5-.866M-.5 .866L.5-.866"/>
<path transform="translate(1344,486) scale(12)" d="M1 0L.5 .866L-.5 .866L-1 0L-.5-.866L.5-.866ZM1 0L-1 0M.5 .866L-.5-.866M-.5 .866L.5-.866"/>
<path transform="translate(1329,514) scale(12)" d="M1 0L.5 .866L-.5 .866L-1 0L-.5-.866L.5-.866ZM1 0L-1 0M.5 .866L-.5-.866M-.5 .866L.5-.866"/>
<path transform="translate(1308,532) scale(12)" d="M1 0L.5 .866L-.5 .866L-1 0L-.5-.866L.5-.866ZM1 0L-1 0M.5 .866L-.5-.866M-.5 .866L.5-.866"/>
<path transform="translate(1392,545) scale(12)" d="M1 0L.5 .866L-.5 .866L-1 0L-.5-.866L.5-.866ZM1 0L-1 0M.5 .866L-.5-.866M-.5 .866L.5-.866"/>
<path transform="translate(1294,562) scale(12)" d="M1 0L.5 .866L-.5 .866L-1 0L-.5-.866L.5-.866ZM1 0L-1 0M.5 .866L-.5-.866M-.5 .866L.5-.866"/>
<path transform="translate(1353,561) scale(12)" d="M1 0L.5 .866L-.5 .866L-1 0L-.5-.866L.5-.866ZM1 0L-1 0M.5 .866L-.5-.866M-.5 .866L.5-.866"/>
</g>
<g class="R h">
<path transform="translate(1295,459) scale(12)" d="M1 0L.5 .866L-.5 .866L-1 0L-.5-.866L.5-.866ZM1 0L-1 0M.5 .866L-.5-.866M-.5 .866L.5-.866"/>
<path transform="translate(1248,486) scale(12)" d="M1 0L.5 .866L-.5 .866L-1 0L-.5-.866L.5-.866ZM1 0L-1 0M.5 .866L-.5-.866M-.5 .866L.5-.866"/>
<path transform="translate(1313,496) scale(12)" d="M1 0L.5 .866L-.5 .866L-1 0L-.5-.866L.5-.866ZM1 0L-1 0M.5 .866L-.5-.866M-.5 .866L.5-.866"/>
<path transform="translate(1364,496) scale(12)" d="M1 0L.5 .866L-.5 .866L-1 0L-.5-.866L.5-.866ZM1 0L-1 0M.5 .866L-.5-.866M-.5 .866L.5-.866"/>
<path transform="translate(1288,524) scale(12)" d="M1 0L.5 .866L-.5 .866L-1 0L-.5-.866L.5-.866ZM1 0L-1 0M.5 .866L-.5-.866M-.5 .866L.5-.866"/>
<path transform="translate(1348,524) scale(12)" d="M1 0L.5 .866L-.5 .866L-1 0L-.5-.866L.5-.866ZM1 0L-1 0M.5 .866L-.5-.866M-.5 .866L.5-.866"/>
<path transform="translate(1372,537) scale(12)" d="M1 0L.5 .866L-.5 .866L-1 0L-.5-.866L.5-.866ZM1 0L-1 0M.5 .866L-.5-.866M-.5 .866L.5-.866"/>
<path transform="translate(1274,553) scale(12)" d="M1 0L.5 .866L-.5 .866L-1 0L-.5-.866L.5-.866ZM1 0L-1 0M.5 .866L-.5-.866M-.5 .866L.5-.866"/>
<path transform="translate(1333,552) scale(12)" d="M1 0L.5 .866L-.5 .866L-1 0L-.5-.866L.5-.866ZM1 0L-1 0M.5 .866L-.5-.866M-.5 .866L.5-.866"/>
</g>
<g class="Y h">
<path transform="translate(1313,452) scale(6.3)" d="M1 0L.5 .866L-.5 .866L-1 0L-.5-.866L.5-.866ZM1 0L-1 0M.5 .866L-.5-.866M-.5 .866L.5-.866"/>
<path transform="translate(1265,479) scale(6.3)" d="M1 0L.5 .866L-.5 .866L-1 0L-.5-.866L.5-.866ZM1 0L-1 0M.5 .866L-.5-.866M-.5 .866L.5-.866"/>
<path transform="translate(1295,503) scale(6.3)" d="M1 0L.5 .866L-.5 .866L-1 0L-.5-.866L.5-.866ZM1 0L-1 0M.5 .866L-.5-.866M-.5 .866L.5-.866"/>
<path transform="translate(1306,517) scale(6.3)" d="M1 0L.5 .866L-.5 .866L-1 0L-.5-.866L.5-.866ZM1 0L-1 0M.5 .866L-.5-.866M-.5 .866L.5-.866"/>
<path transform="translate(1346,503) scale(6.3)" d="M1 0L.5 .866L-.5 .866L-1 0L-.5-.866L.5-.866ZM1 0L-1 0M.5 .866L-.5-.866M-.5 .866L.5-.866"/>
<path transform="translate(1331,531) scale(6.3)" d="M1 0L.5 .866L-.5 .866L-1 0L-.5-.866L.5-.866ZM1 0L-1 0M.5 .866L-.5-.866M-.5 .866L.5-.866"/>
<path transform="translate(1389,530) scale(6.3)" d="M1 0L.5 .866L-.5 .866L-1 0L-.5-.866L.5-.866ZM1 0L-1 0M.5 .866L-.5-.866M-.5 .866L.5-.866"/>
<path transform="translate(1292,546) scale(6.3)" d="M1 0L.5 .866L-.5 .866L-1 0L-.5-.866L.5-.866ZM1 0L-1 0M.5 .866L-.5-.866M-.5 .866L.5-.866"/>
<path transform="translate(1351,545) scale(6.3)" d="M1 0L.5 .866L-.5 .866L-1 0L-.5-.866L.5-.866ZM1 0L-1 0M.5 .866L-.5-.866M-.5 .866L.5-.866"/>
</g>
<g class="N h">
<path transform="translate(1223,561) scale(12)" d="M1 0L.5 .866L-.5 .866L-1 0L-.5-.866L.5-.866ZM1 0L-1 0M.5 .866L-.5-.866M-.5 .866L.5-.866"/>
<path transform="translate(1263,577) scale(12)" d="M1 0L.5 .866L-.5 .866L-1 0L-.5-.866L.5-.866ZM1 0L-1 0M.5 .866L-.5-.866M-.5 .866L.5-.866"/>
<path transform="translate(1226,591) scale(12)" d="M1 0L.5 .866L-.5 .866L-1 0L-.5-.866L.5-.866ZM1 0L-1 0M.5 .866L-.5-.866M-.5 .866L.5-.866"/>
<path transform="translate(1241,553) scale(6)" d="M1 0L.5 .866L-.5 .866L-1 0L-.5-.866L.5-.866ZM1 0L-1 0M.5 .866L-.5-.866M-.5 .866L.5-.866"/>
<path transform="translate(1281,574) scale(6)" d="M1 0L.5 .866L-.5 .866L-1 0L-.5-.866L.5-.866ZM1 0L-1 0M.5 .866L-.5-.866M-.5 .866L.5-.866"/>
<path transform="translate(1244,584) scale(6)" d="M1 0L.5 .866L-.5 .866L-1 0L-.5-.866L.5-.866ZM1 0L-1 0M.5 .866L-.5-.866M-.5 .866L.5-.866"/>
</g>
<g class="D h">
<path transform="translate(1243,570) scale(11)" d="M1 0L.5 .866L-.5 .866L-1 0L-.5-.866L.5-.866ZM1 0L-1 0M.5 .866L-.5-.866M-.5 .866L.5-.866"/>
<path transform="translate(1283,588) scale(11)" d="M1 0L.5 .866L-.5 .866L-1 0L-.5-.866L.5-.866ZM1 0L-1 0M.5 .866L-.5-.866M-.5 .866L.5-.866"/>
<path transform="translate(1246,600) scale(11)" d="M1 0L.5 .866L-.5 .866L-1 0L-.5-.866L.5-.866ZM1 0L-1 0M.5 .866L-.5-.866M-.5 .866L.5-.866"/>
</g>
</svg>
</body></html>
